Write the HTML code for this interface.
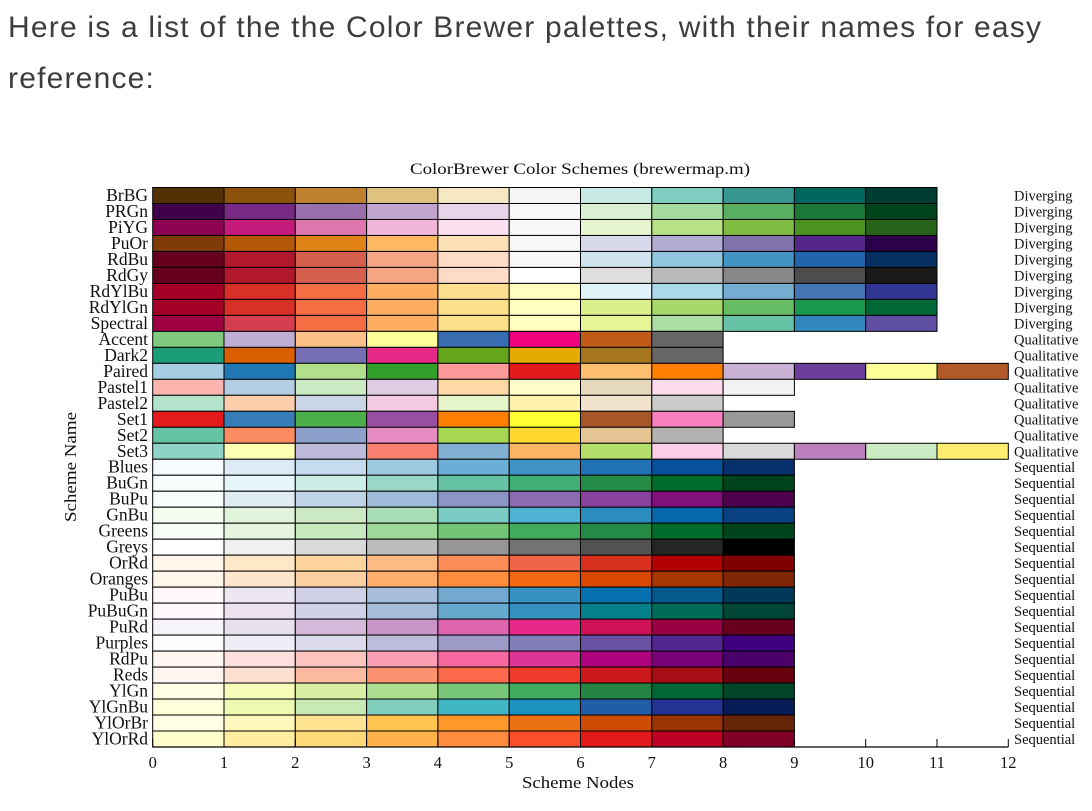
<!DOCTYPE html>
<html><head><meta charset="utf-8"><style>
body{margin:0;background:#fff;width:1092px;height:811px;overflow:hidden;}
#intro{position:absolute;left:8px;top:2px;font:30px "Liberation Sans",sans-serif;letter-spacing:1.2px;color:#3d3d3d;line-height:51px;margin:0;white-space:nowrap;}
svg{position:absolute;left:0;top:0;}
text{font-family:"Liberation Serif",serif;fill:#111;}
</style></head><body>
<p id="intro">Here is a list of the the Color Brewer palettes, with their names for easy<br>reference:</p>
<svg id="chart" width="1092" height="811"></svg>
<script>
const schemeNames=["BrBG","PRGn","PiYG","PuOr","RdBu","RdGy","RdYlBu","RdYlGn","Spectral","Accent","Dark2","Paired","Pastel1","Pastel2","Set1","Set2","Set3","Blues","BuGn","BuPu","GnBu","Greens","Greys","OrRd","Oranges","PuBu","PuBuGn","PuRd","Purples","RdPu","Reds","YlGn","YlGnBu","YlOrBr","YlOrRd"];
const schemeTypes=["Diverging","Diverging","Diverging","Diverging","Diverging","Diverging","Diverging","Diverging","Diverging","Qualitative","Qualitative","Qualitative","Qualitative","Qualitative","Qualitative","Qualitative","Qualitative","Sequential","Sequential","Sequential","Sequential","Sequential","Sequential","Sequential","Sequential","Sequential","Sequential","Sequential","Sequential","Sequential","Sequential","Sequential","Sequential","Sequential","Sequential"];
const schemeColors=[
"543005,8c510a,bf812d,dfc27d,f6e8c3,f5f5f5,c7eae5,80cdc1,35978f,01665e,003c30",
"40004b,762a83,9970ab,c2a5cf,e7d4e8,f7f7f7,d9f0d3,a6dba0,5aae61,1b7837,00441b",
"8e0152,c51b7d,de77ae,f1b6da,fde0ef,f7f7f7,e6f5d0,b8e186,7fbc41,4d9221,276419",
"7f3b08,b35806,e08214,fdb863,fee0b6,f7f7f7,d8daeb,b2abd2,8073ac,542788,2d004b",
"67001f,b2182b,d6604d,f4a582,fddbc7,f7f7f7,d1e5f0,92c5de,4393c3,2166ac,053061",
"67001f,b2182b,d6604d,f4a582,fddbc7,ffffff,e0e0e0,bababa,878787,4d4d4d,1a1a1a",
"a50026,d73027,f46d43,fdae61,fee090,ffffbf,e0f3f8,abd9e9,74add1,4575b4,313695",
"a50026,d73027,f46d43,fdae61,fee08b,ffffbf,d9ef8b,a6d96a,66bd63,1a9850,006837",
"9e0142,d53e4f,f46d43,fdae61,fee08b,ffffbf,e6f598,abdda4,66c2a5,3288bd,5e4fa2",
"7fc97f,beaed4,fdc086,ffff99,386cb0,f0027f,bf5b17,666666",
"1b9e77,d95f02,7570b3,e7298a,66a61e,e6ab02,a6761d,666666",
"a6cee3,1f78b4,b2df8a,33a02c,fb9a99,e31a1c,fdbf6f,ff7f00,cab2d6,6a3d9a,ffff99,b15928",
"fbb4ae,b3cde3,ccebc5,decbe4,fed9a6,ffffcc,e5d8bd,fddaec,f2f2f2",
"b3e2cd,fdcdac,cbd5e8,f4cae4,e6f5c9,fff2ae,f1e2cc,cccccc",
"e41a1c,377eb8,4daf4a,984ea3,ff7f00,ffff33,a65628,f781bf,999999",
"66c2a5,fc8d62,8da0cb,e78ac3,a6d854,ffd92f,e5c494,b3b3b3",
"8dd3c7,ffffb3,bebada,fb8072,80b1d3,fdb462,b3de69,fccde5,d9d9d9,bc80bd,ccebc5,ffed6f",
"f7fbff,deebf7,c6dbef,9ecae1,6baed6,4292c6,2171b5,08519c,08306b",
"f7fcfd,e5f5f9,ccece6,99d8c9,66c2a4,41ae76,238b45,006d2c,00441b",
"f7fcfd,e0ecf4,bfd3e6,9ebcda,8c96c6,8c6bb1,88419d,810f7c,4d004b",
"f7fcf0,e0f3db,ccebc5,a8ddb5,7bccc4,4eb3d3,2b8cbe,0868ac,084081",
"f7fcf5,e5f5e0,c7e9c0,a1d99b,74c476,41ab5d,238b45,006d2c,00441b",
"ffffff,f0f0f0,d9d9d9,bdbdbd,969696,737373,525252,252525,000000",
"fff7ec,fee8c8,fdd49e,fdbb84,fc8d59,ef6548,d7301f,b30000,7f0000",
"fff5eb,fee6ce,fdd0a2,fdae6b,fd8d3c,f16913,d94801,a63603,7f2704",
"fff7fb,ece7f2,d0d1e6,a6bddb,74a9cf,3690c0,0570b0,045a8d,023858",
"fff7fb,ece2f0,d0d1e6,a6bddb,67a9cf,3690c0,02818a,016c59,014636",
"f7f4f9,e7e1ef,d4b9da,c994c7,df65b0,e7298a,ce1256,980043,67001f",
"fcfbfd,efedf5,dadaeb,bcbddc,9e9ac8,807dba,6a51a3,54278f,3f007d",
"fff7f3,fde0dd,fcc5c0,fa9fb5,f768a1,dd3497,ae017e,7a0177,49006a",
"fff5f0,fee0d2,fcbba1,fc9272,fb6a4a,ef3b2c,cb181d,a50f15,67000d",
"ffffe5,f7fcb9,d9f0a3,addd8e,78c679,41ab5d,238443,006837,004529",
"ffffd9,edf8b1,c7e9b4,7fcdbb,41b6c4,1d91c0,225ea8,253494,081d58",
"ffffe5,fff7bc,fee391,fec44f,fe9929,ec7014,cc4c02,993404,662506",
"ffffcc,ffeda0,fed976,feb24c,fd8d3c,fc4e2a,e31a1c,bd0026,800026"];
const xTicks=[0,1,2,3,4,5,6,7,8,9,10,11,12];

const svg=document.getElementById('chart');
const NS='http://www.w3.org/2000/svg';
const X0=152.7,X1=1008.3,Y0=187.5,Y1=747;
const xs=v=>X0+(X1-X0)*v/12;
const rowH=(Y1-Y0)/schemeNames.length;
const ys=i=>Y0+rowH*i;
function mk(tag,attrs,txt){const e=document.createElementNS(NS,tag);for(const k in attrs)e.setAttribute(k,attrs[k]);if(txt!==undefined)e.textContent=txt;svg.appendChild(e);return e;}

let t=mk('text',{x:410,y:174,'font-size':16,textLength:340,lengthAdjust:'spacingAndGlyphs'},'ColorBrewer Color Schemes (brewermap.m)');



schemeNames.forEach((name,i)=>{
  const cols=schemeColors[i].split(',');
  cols.forEach((c,j)=>{
    const r=mk('rect',{x:xs(j),y:ys(i),width:xs(j+1)-xs(j),height:rowH,fill:'#'+c,stroke:'#000','stroke-width':1});
    
    
  });
  const l=mk('text',{x:148,y:ys(i)+rowH-2.5,'text-anchor':'end','font-size':17.5},name);
  
  
  const ty=mk('text',{x:1014,y:ys(i)+rowH-3,'font-size':14.5},schemeTypes[i]);
  
  
});

const ax=mk('line',{x1:X0,y1:Y1,x2:X1,y2:Y1,stroke:'#000','stroke-width':1.3});


xTicks.forEach(v=>{
  const tk=mk('line',{x1:xs(v),y1:Y1,x2:xs(v),y2:Y1-8,stroke:'#000','stroke-width':1});
  
  
  const tl=mk('text',{x:xs(v),y:768,'text-anchor':'middle','font-size':16.5},String(v));
  
  
});
const xt=mk('text',{x:522,y:788,'font-size':16.5,textLength:112,lengthAdjust:'spacingAndGlyphs'},'Scheme Nodes');


const yt=mk('text',{x:0,y:0,'text-anchor':'middle','font-size':16.5,textLength:110,lengthAdjust:'spacingAndGlyphs',transform:'translate(76,467) rotate(-90)'},'Scheme Name');


</script>
</body></html>
